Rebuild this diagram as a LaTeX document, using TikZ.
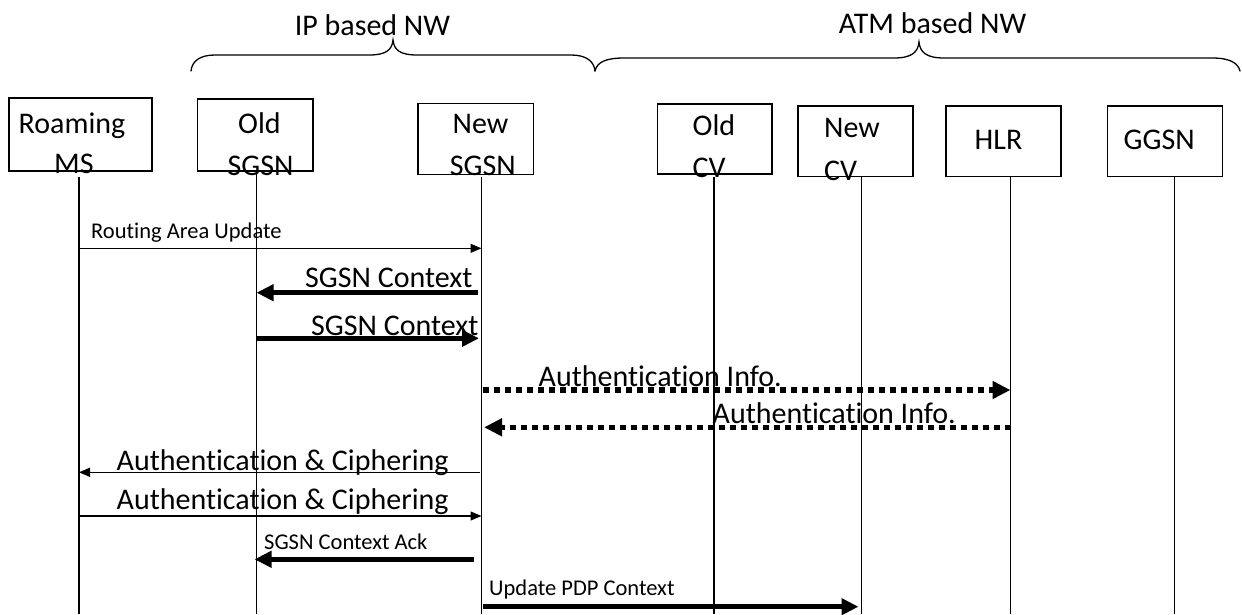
\documentclass[tikz,border=0pt]{standalone}
\usepackage{fontspec}
\setmainfont{Carlito}[Ligatures={NoCommon}]
\usetikzlibrary{arrows.meta}
\tikzset{
  box/.style={draw, line width=1.3pt, inner sep=0pt},
  big/.style={font=\fontsize{30}{36}\selectfont, inner sep=0pt, anchor=base west},
  small/.style={font=\fontsize{22.5}{27}\selectfont, inner sep=0pt, anchor=base west},
  life/.style={line width=1.2pt},
  thinarrow/.style={line width=1.3pt, -{Triangle[length=11pt,width=9pt]}},
  thickarrow/.style={line width=5.5pt, -{Triangle[length=17pt,width=16pt]}},
  dotarrow/.style={line width=5.5pt, dash pattern=on 5.5pt off 5.5pt, -{Triangle[length=18pt,width=17pt]}},
  bracepath/.style={line width=1.3pt, line cap=round},
}
\begin{document}
\begin{tikzpicture}[x=1pt,y=-1pt]
\fill[white] (0,0) rectangle (1242,614);
\useasboundingbox (0,0) rectangle (1242,614);

% braces
\draw[bracepath] (191,71) .. controls (192,61) and (200,55) .. (215,55) -- (369,55)
  .. controls (386,55) and (392,50) .. (393,40)
  .. controls (394,50) and (400,55) .. (417,55) -- (571,55)
  .. controls (586,55) and (594,61) .. (595,71);
\draw[bracepath] (595,71) .. controls (597,62) and (606,58) .. (624,58) -- (894,58)
  .. controls (912,58) and (918,52) .. (919,42)
  .. controls (920,52) and (926,58) .. (944,58) -- (1212,58)
  .. controls (1230,58) and (1238,63) .. (1240,71);
\node[big] (hip) at (294.6,35) {IP based NW};
\node[big] (hatm) at (838.6,33) {ATM based NW};

% boxes
\node[box, minimum width=143pt, minimum height=73pt] (ms) at (80.5,134.5) {};
\node[box, minimum width=115.4pt, minimum height=72pt] (osgsn) at (255.3,135) {};
\node[box, minimum width=115.6pt, minimum height=70.6pt] (nsgsn) at (475.8,139) {};
\node[box, minimum width=114.5pt, minimum height=70pt] (ocv) at (714.7,139) {};
\node[box, minimum width=115pt, minimum height=70.7pt] (ncv) at (855.5,141.3) {};
\node[box, minimum width=115pt, minimum height=70.7pt] (hlr) at (1003.5,141.3) {};
\node[box, minimum width=115pt, minimum height=70.7pt] (ggsn) at (1165.2,141.3) {};

% box texts
\node[big] (tms1) at (18.5,133) {Roaming};
\node[big] (tms2) at (54,173) {MS};
\node[big] (tos1) at (238,133) {Old};
\node[big] (tos2) at (227.5,175) {SGSN};
\node[big] (tns1) at (452.5,133) {New};
\node[big] (tns2) at (449.6,175) {SGSN};
\node[big] (toc1) at (692.5,135) {Old};
\node[big] (toc2) at (692.5,177) {CV};
\node[big] (tnc1) at (824,137) {New};
\node[big] (tnc2) at (824,180) {CV};
\node[big] (thlr) at (974.5,149) {HLR};
\node[big] (tggsn) at (1123.5,149) {GGSN};

% lifelines
\coordinate (Lms) at (79,177);
\coordinate (Losgsn) at (256.5,171);
\coordinate (Lnsgsn) at (481.5,177);
\coordinate (Locv) at (714,177);
\coordinate (Lncv) at (861.5,177);
\coordinate (Lhlr) at (1010.5,177);
\coordinate (Lggsn) at (1174.5,177);
\coordinate (bot) at (0,614);
\foreach \c in {Lms,Losgsn,Lnsgsn,Locv,Lncv,Lhlr,Lggsn}
  \draw[life] (\c) -- (\c |- bot);

% messages
\draw[thinarrow] (Lms |- 0,248.3) -- (Lnsgsn |- 0,248.3);
\node[small] (l1) at (91,238) {Routing Area Update};

\draw[thickarrow, shorten <=3.5pt] (Lnsgsn |- 0,292.7) -- (Losgsn |- 0,292.7);
\node[big] (l2) at (305,287) {SGSN Context};

\draw[thickarrow, shorten >=2.5pt] (Losgsn |- 0,338.3) -- (Lnsgsn |- 0,338.3);
\node[big] (l3) at (311,335) {SGSN Context};

\draw[dotarrow, shorten <=1.5pt] (Lnsgsn |- 0,390) -- (Lhlr |- 0,390);
\node[big] (l4) at (538.5,386.7) {Authentication Info.};

\draw[dotarrow, shorten >=2.5pt] (Lhlr |- 0,427.3) -- (Lnsgsn |- 0,427.3);
\node[big] (l5) at (712.5,423.3) {Authentication Info.};

\draw[thinarrow, shorten <=1.5pt] (Lnsgsn |- 0,472.3) -- (Lms |- 0,472.3);
\node[big] (l6) at (116.5,470) {Authentication \& Ciphering};

\draw[thinarrow] (Lms |- 0,516) -- (Lnsgsn |- 0,516);
\node[big] (l7) at (116.5,509.3) {Authentication \& Ciphering};

\draw[thickarrow, shorten <=7.5pt, shorten >=-2pt] (Lnsgsn |- 0,559.3) -- (Losgsn |- 0,559.3);
\node[small] (l8) at (264,549.3) {SGSN Context Ack};

\draw[thickarrow, shorten <=1.5pt, shorten >=3pt] (Lnsgsn |- 0,606.7) -- (Lncv |- 0,606.7);
\node[small] (l9) at (489,595) {Update PDP Context};
\end{tikzpicture}
\end{document}
